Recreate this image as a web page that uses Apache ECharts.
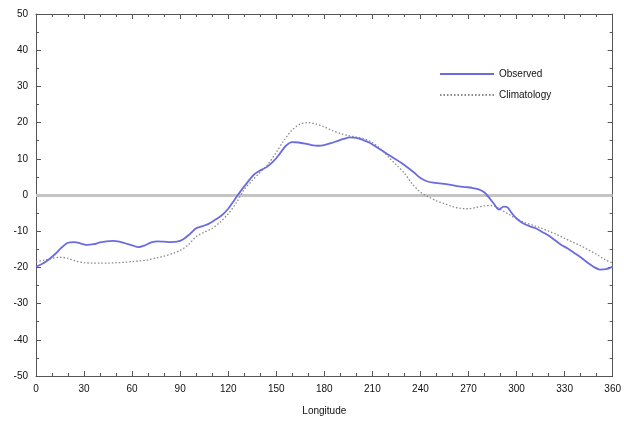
<!DOCTYPE html>
<html><head><meta charset="utf-8">
<script src="https://cdn.jsdelivr.net/npm/echarts@6/dist/echarts.min.js"></script>
<style>html,body{margin:0;padding:0;background:#fff}#c{width:624px;height:425px}</style>
</head><body><div id="c"></div>
<script>
const xTicks = [0,30,60,90,120,150,180,210,240,270,300,330,360];
const yTicks = [-50,-40,-30,-20,-10,0,10,20,30,40,50];

const obsLon = [0,4,8,12,16,20,24,28,32,36,40,44,48,52,56,60,64,68,72,76,80,84,88,92,96,100,104,108,112,116,120,124,128,132,136,140,144,148,152,156,160,164,168,172,176,180,184,188,192,196,200,204,208,212,216,220,224,228,232,236,240,244,248,252,256,260,264,268,272,276,280,283,286,289,292,294,297,300,304,308,312,316,320,324,328,332,336,340,344,348,352,356,360];
const obsVal = [-19.8,-19,-17.8,-16.3,-14.5,-13.2,-13,-13.4,-13.8,-13.6,-13.1,-12.8,-12.7,-12.9,-13.4,-13.9,-14.4,-13.9,-13.1,-12.8,-12.9,-13,-12.9,-12.2,-10.8,-9.2,-8.6,-7.9,-6.8,-5.6,-3.8,-1.3,1.2,3.5,5.6,6.8,7.7,9.2,11.3,13.6,14.6,14.5,14.2,13.8,13.6,13.8,14.3,14.9,15.5,15.9,15.8,15.2,14.5,13.4,12.3,11.1,10,8.9,7.6,6.2,4.7,3.8,3.4,3.2,3,2.7,2.4,2.2,2,1.6,0.7,-0.8,-2.5,-4,-3.2,-3.3,-5,-6.5,-7.8,-8.6,-9.2,-10.2,-11.2,-12.5,-13.8,-14.8,-16,-17.2,-18.6,-19.8,-20.6,-20.5,-19.8];

const climLon = [0,5,10,15,20,25,30,35,40,45,50,55,60,65,70,75,80,85,90,95,100,105,110,115,120,125,130,135,140,145,150,155,160,165,170,175,180,185,190,195,200,205,210,215,220,225,230,235,240,245,250,255,260,265,270,275,280,285,290,295,300,305,310,315,320,325,330,335,340,345,350,355,360];
const climVal = [-18.5,-18,-17.5,-17.2,-17.5,-18.3,-18.7,-18.8,-18.8,-18.8,-18.7,-18.6,-18.4,-18.2,-17.9,-17.4,-16.9,-16.2,-15.3,-13.8,-11.5,-10.3,-9.2,-7.5,-5.2,-2.2,1.5,4,6.3,8.6,11.8,15.2,18,19.6,20,19.6,18.8,17.8,17,16.4,16,15.5,14.5,12.8,10.5,8.3,6,3,0.8,-0.5,-1.6,-2.4,-3.2,-3.7,-3.8,-3.4,-3,-2.9,-4,-5.3,-6.6,-7.6,-8.3,-9.1,-10,-10.9,-12,-13,-14,-15.2,-16.4,-17.8,-18.8];

const seriesNames = ['Observed','Climatology'];
const xTitle = 'Longitude';

const obsData = obsLon.map((x,i)=>[x,obsVal[i]]);
const climData = climLon.map((x,i)=>[x,climVal[i]]);

const axisCol = '#555';
const font = 'Liberation Sans Narrow, Liberation Sans, Arial, sans-serif';
const chart = echarts.init(document.getElementById('c'), null, {renderer:'canvas'});
const baseX = {
  type:'value', min:0, max:360, interval:30,
  axisLine:{show:true, onZero:false, lineStyle:{color:axisCol, width:1}},
  axisTick:{show:true, inside:true, length:5, lineStyle:{color:axisCol}},
  minorTick:{show:true, splitNumber:3, length:3, lineStyle:{color:axisCol}},
  splitLine:{show:false}
};
const baseY = {
  type:'value', min:-50, max:50, interval:10,
  axisLine:{show:true, onZero:false, lineStyle:{color:axisCol, width:1}},
  axisTick:{show:true, inside:true, length:5, lineStyle:{color:axisCol}},
  minorTick:{show:true, splitNumber:2, length:3, lineStyle:{color:axisCol}},
  splitLine:{show:false}
};
chart.setOption({
  animation:false,
  backgroundColor:'#fff',
  grid:{left:36, right:9, top:14, bottom:49, containLabel:false},
  legend:{
    orient:'vertical', left:434, top:64, itemWidth:54, itemHeight:10, itemGap:11,
    itemStyle:{opacity:0},
    textStyle:{fontFamily:font, fontSize:10, color:'#111'},
    data:seriesNames
  },
  xAxis:[
    Object.assign({}, baseX, {position:'bottom',
      name:xTitle, nameLocation:'middle', nameGap:30,
      nameTextStyle:{fontFamily:font, fontSize:10, color:'#111'},
      axisLabel:{show:true, margin:8, fontFamily:font, fontSize:10, color:'#111',
        formatter:(v)=> xTicks.includes(v) ? String(v) : ''}}),
    Object.assign({}, baseX, {position:'top', axisLabel:{show:false}})
  ],
  yAxis:[
    Object.assign({}, baseY, {position:'left',
      axisLabel:{show:true, margin:8, fontFamily:font, fontSize:10, color:'#111',
        formatter:(v)=> yTicks.includes(v) ? String(v) : ''}}),
    Object.assign({}, baseY, {position:'right', axisLabel:{show:false}})
  ],
  series:[
    {
      name:seriesNames[1], type:'line', data:climData, symbol:'none', smooth:0.3,
      xAxisIndex:0, yAxisIndex:0, z:3,
      lineStyle:{color:'#8a8a8a', width:1.3, type:[1.5,2]},
      itemStyle:{color:'#8a8a8a'},
      markLine:{silent:true, symbol:'none', label:{show:false},
        lineStyle:{color:'#c4c4c4', width:3, type:'solid'},
        data:[{yAxis:0}], z:1}
    },
    {
      name:seriesNames[0], type:'line', data:obsData, symbol:'none', smooth:0.3,
      xAxisIndex:0, yAxisIndex:0, z:4,
      lineStyle:{color:'#6b6bdf', width:1.8},
      itemStyle:{color:'#6b6bdf'}
    }
  ]
});
</script></body></html>
